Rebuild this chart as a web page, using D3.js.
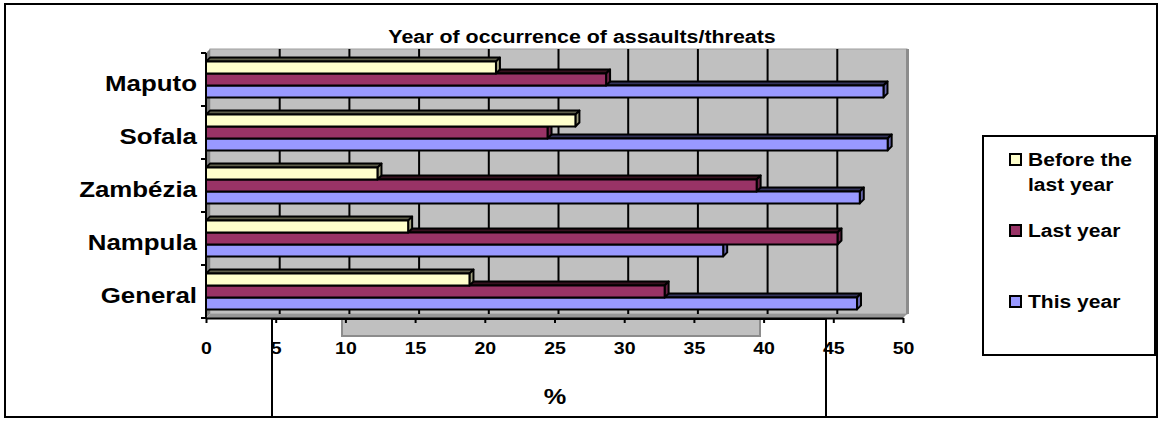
<!DOCTYPE html>
<html>
<head>
<meta charset="utf-8">
<script src="https://cdn.jsdelivr.net/npm/d3@7"></script>
<style>
  body { margin: 0; background: #fff; }
  svg { display: block; font-family: "Liberation Sans", Arial, sans-serif; font-weight: bold; }
</style>
</head>
<body>
<svg id="chart"></svg>
<script>
// Data (percent)
const categories = ["Maputo", "Sofala", "Zambézia", "Nampula", "General"];
const seriesNames = ["Before the last year", "Last year", "This year"];
const beforeLastYear = [20.8, 26.5, 12.3, 14.5, 18.9];
const lastYear = [28.7, 24.5, 39.5, 45.3, 32.9];
const thisYear = [48.6, 48.9, 46.9, 37.1, 46.7];
const xTicks = [0, 5, 10, 15, 20, 25, 30, 35, 40, 45, 50];
const legendLines = [["Before the", "last year"], ["Last year"], ["This year"]];

const colors = ["#ffffcc", "#993366", "#9999ff"];
const topShade = ["#5e5e4a", "#36111f", "#33335a"];
const sideShade = ["#a3a382", "#662244", "#6666aa"];

const width = 1160, height = 421;
const depth = 4;
const sx = 1.15; // the original text is drawn a bit wide

const svg = d3.select("#chart")
    .attr("width", width)
    .attr("height", height)
    .attr("viewBox", [0, 0, width, height]);

svg.append("rect").attr("width", width).attr("height", height).attr("fill", "#fff");

// outer frame
svg.append("rect")
    .attr("x", 5).attr("y", 4).attr("width", 1152).attr("height", 413)
    .attr("fill", "none").attr("stroke", "#000").attr("stroke-width", 2);

// scales
const x = d3.scaleLinear([0, 50], [206, 903]);
const y0 = d3.scaleBand(categories, [53, 318]);
const y1 = d3.scaleBand(seriesNames, [0, y0.bandwidth()]).paddingInner(0).paddingOuter(0.72);

const plotTop = y0.range()[0], plotBottom = y0.range()[1];

// back wall
svg.append("rect")
    .attr("x", x(0) + depth).attr("y", plotTop - depth)
    .attr("width", x(50) - x(0)).attr("height", plotBottom - plotTop)
    .attr("fill", "#c0c0c0").attr("stroke", "#a0a0a0").attr("stroke-width", 1);
svg.append("rect")
    .attr("x", x(50) + depth - 1).attr("y", plotTop - depth)
    .attr("width", 3).attr("height", plotBottom - plotTop)
    .attr("fill", "#8c8c8c");

// gridlines on back wall
svg.append("g")
    .selectAll("line")
    .data(xTicks.slice(1, -1))
    .join("line")
    .attr("x1", d => x(d) + depth).attr("x2", d => x(d) + depth)
    .attr("y1", plotTop - depth).attr("y2", plotBottom - depth)
    .attr("stroke", "#000").attr("stroke-width", 2);

// left side wall and floor
svg.append("path")
    .attr("d", `M${x(0)},${plotTop}L${x(0) + depth},${plotTop - depth}V${plotBottom - depth}L${x(0)},${plotBottom}Z`)
    .attr("fill", "#808080");
svg.append("path")
    .attr("d", `M${x(0)},${plotBottom}L${x(0) + depth},${plotBottom - depth}H${x(50) + depth}L${x(50)},${plotBottom}Z`)
    .attr("fill", "#969696");

// bars
const seriesValues = [beforeLastYear, lastYear, thisYear];
const rows = [];
categories.forEach((c, i) => {
    // lower bar first so the upper one covers its top face
    for (let s = seriesNames.length - 1; s >= 0; s--) {
        rows.push({ cat: c, s, value: seriesValues[s][i] });
    }
});

const bars = svg.append("g")
    .selectAll("g")
    .data(rows)
    .join("g")
    .attr("stroke", "#000")
    .attr("stroke-width", 2)
    .attr("stroke-linejoin", "round");

bars.each(function (d) {
    const g = d3.select(this);
    const x0 = x(0), x1 = x(d.value);
    const yy = y0(d.cat) + y1(seriesNames[d.s]);
    const h = y1.bandwidth();
    g.append("path")
        .attr("d", `M${x0},${yy}L${x0 + depth},${yy - depth}H${x1 + depth}L${x1},${yy}Z`)
        .attr("fill", topShade[d.s]);
    g.append("path")
        .attr("d", `M${x1},${yy}L${x1 + depth},${yy - depth}V${yy + h - depth}L${x1},${yy + h}Z`)
        .attr("fill", sideShade[d.s]);
    g.append("rect")
        .attr("x", x0).attr("y", yy)
        .attr("width", x1 - x0).attr("height", h)
        .attr("fill", colors[d.s]);
});

// left axis: line + ticks on band boundaries
const bounds = categories.map(c => y0(c)).concat([plotBottom]);
svg.append("line")
    .attr("x1", x(0)).attr("x2", x(0)).attr("y1", plotTop).attr("y2", plotBottom)
    .attr("stroke", "#000").attr("stroke-width", 2);
svg.append("g")
    .selectAll("line")
    .data(bounds)
    .join("line")
    .attr("x1", x(0) - 5).attr("x2", x(0))
    .attr("y1", d => d).attr("y2", d => d)
    .attr("stroke", "#000").attr("stroke-width", 2);

// category labels
svg.append("g")
    .selectAll("text")
    .data(categories)
    .join("text")
    .attr("transform", d => `translate(197,${y0(d) + y0.bandwidth() / 2 + 11}) scale(${sx},1)`)
    .attr("text-anchor", "end")
    .attr("font-size", 22.5)
    .attr("fill", "#000")
    .text(d => d);

// decorative grey block under the axis
svg.append("rect")
    .attr("x", 342).attr("y", 319).attr("width", 418).attr("height", 17)
    .attr("fill", "#c0c0c0").attr("stroke", "#8c8c8c").attr("stroke-width", 2);

// bottom axis
const xAxis = svg.append("g")
    .attr("transform", `translate(0,${plotBottom})`)
    .call(d3.axisBottom(x).tickValues(xTicks).tickSize(5).tickSizeOuter(0).tickPadding(19));
xAxis.select(".domain").attr("stroke-width", 2);
xAxis.selectAll(".tick line").attr("stroke-width", 2);
xAxis.selectAll(".tick text")
    .attr("font-size", 17)
    .attr("font-family", "Liberation Sans, Arial, sans-serif")
    .attr("font-weight", "bold")
    .attr("fill", "#000")
    .attr("transform", `scale(${sx},1)`);

// axis-title box
svg.append("rect")
    .attr("x", 272).attr("y", plotBottom + 1).attr("width", 554).attr("height", 417 - plotBottom - 1)
    .attr("fill", "none").attr("stroke", "#000").attr("stroke-width", 2);
svg.append("text")
    .attr("transform", `translate(555,404) scale(${sx},1)`)
    .attr("text-anchor", "middle")
    .attr("font-size", 22)
    .text("%");

// title
svg.append("text")
    .attr("transform", `translate(582,43) scale(${sx},1)`)
    .attr("text-anchor", "middle")
    .attr("font-size", 18.6)
    .text("Year of occurrence of assaults/threats");

// legend
const legend = svg.append("g");
legend.append("rect")
    .attr("x", 983).attr("y", 136).attr("width", 172).attr("height", 219)
    .attr("fill", "#fff").attr("stroke", "#000").attr("stroke-width", 2);
const legendY = [166, 237, 308];
const items = legend.selectAll("g.item")
    .data(seriesNames)
    .join("g")
    .attr("class", "item");
items.append("rect")
    .attr("x", 1010).attr("y", (d, i) => legendY[i] - 12)
    .attr("width", 11).attr("height", 11)
    .attr("fill", (d, i) => colors[i])
    .attr("stroke", "#000").attr("stroke-width", 2);
items.each(function (d, i) {
    d3.select(this).selectAll("text")
        .data(legendLines[i])
        .join("text")
        .attr("transform", (t, j) => `translate(1028,${legendY[i] + j * 25}) scale(${sx},1)`)
        .attr("font-size", 18.3)
        .text(t => t);
});
</script>
</body>
</html>
